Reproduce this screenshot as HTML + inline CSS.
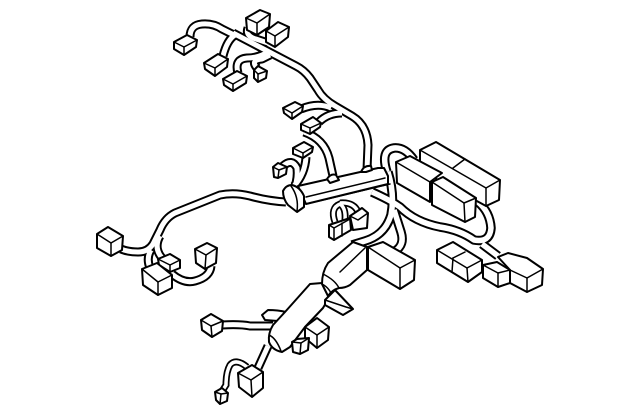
<!DOCTYPE html>
<html><head><meta charset="utf-8"><style>
html,body{margin:0;padding:0;background:#fff}
svg{display:block}
.b polygon,.b polyline,.b path{fill:#fff;stroke:#000;stroke-width:2;stroke-linejoin:round;stroke-linecap:round}
.b polyline.l,.b path.l{fill:none;stroke-width:1.5}
</style></head><body>
<svg width="640" height="414" viewBox="0 0 640 414" xmlns="http://www.w3.org/2000/svg">
<rect width="640" height="414" fill="#fff"/>
<defs>
<g id="w" fill="none" stroke-linecap="butt" stroke-linejoin="round">
<path d="M233 33 L296 66 Q304 70 310 78 L318 90 Q323 99 335 106 L352 116 Q367 125 368 145 L367 170"/>
<path d="M190 37 Q190 25 202 24 Q213 23 222 29 L234 35"/>
<path d="M223 56 Q227 40 235 35"/>
<path d="M238 73 Q234 59 247 58 Q258 58 268 52"/>
<path d="M257 68 Q250 60 262 59 L270 55"/>
<path d="M248 28 Q245 36 256 39 L268 43"/>
<path d="M301 109 Q318 102 331 108"/>
<path d="M319 122 Q328 113 342 113"/>
<path d="M304 132 Q324 139 329 158 L333 176"/>
<path d="M306 157 Q305 174 294 186"/>
<path d="M283 166 Q292 158 297 168 Q298 178 295 186"/>
<path d="M286 202 Q268 201 250 196 Q234 192 220 195 L175 213 Q165 218 160 230 L153 244 Q148 252 138 252 Q128 252 121 249"/>
<path d="M160 236 Q152 250 166 262"/>
<path d="M151 250 Q146 258 150 268"/>
<path d="M211 266 Q210 277 195 281 Q184 284 172 274"/>
<path d="M222 325 Q240 324 250 326 L273 326"/>
<path d="M268 346 L258 368"/>
</g>
<g id="w2" fill="none" stroke-linejoin="round">
<path d="M387 172 Q380 150 394 148 Q405 147 414 160"/>
<path d="M388 172 Q395 195 391 215 Q385 235 365 241 L352 245"/>
<path d="M372 192 Q390 200 400 207 Q415 222 440 227 Q460 230 474 240 Q490 243 491 228 Q490 212 478 202"/>
<path d="M394 210 L401 232 Q405 245 395 251"/>
<path d="M482 244 L498 256"/>
</g>
<g id="w3" fill="none">
<path d="M247 367 Q236 358 230 365 Q226 372 226 385 L221 393"/>
<path d="M335 222 Q330 208 340 204 Q346 208 345 220"/>
<path d="M340 203 Q354 202 358 212"/>
</g>
</defs>
<use href="#w2" stroke="#000" stroke-width="9.5"/>
<use href="#w2" stroke="#fff" stroke-width="5.5"/>
<use href="#w" stroke="#000" stroke-width="9"/>
<use href="#w" stroke="#fff" stroke-width="5"/>
<use href="#w3" stroke="#000" stroke-width="7"/>
<use href="#w3" stroke="#fff" stroke-width="3.5"/>
<g class="b">
<!-- trunk -->
<polygon points="298,186 378,168 384,168 388,176 388,184 306,204"/>
<polyline class="l" points="306,197 385,178"/>
<polyline class="l" points="306,204 390,184"/>
<path d="M327,179 Q331,173 336,175 L339,180 L330,183 Z"/>
<path d="M361,172 Q364,165 371,166 L372,170 L366,172 Z"/>
<!-- clamp -->
<path d="M283,191 Q286,185 292,185 Q300,187 304,196 L304,207 L297,212 L288,205 Q283,199 283,191 Z"/>
<path class="l" d="M291,186 Q299,197 297,211"/>
<!-- top boxes -->
<polygon points="174,42 187,35 197,40 196,47 184,55 174,49"/><polyline class="l" points="174,42 184,47 197,40"/><polyline class="l" points="184,47 184,55"/>
<polygon points="204,63 218,54 228,59 227,67 215,76 205,69"/><polyline class="l" points="204,63 215,68 228,59"/><polyline class="l" points="215,68 215,76"/>
<polygon points="223,79 237,71 247,76 246,83 233,91 224,85"/><polyline class="l" points="223,79 233,84 247,76"/><polyline class="l" points="233,84 233,91"/>
<polygon points="254,70 258,66 267,71 266,78 258,82 254,78"/><polyline class="l" points="254,70 258,74 267,71"/><polyline class="l" points="258,74 258,82"/>
<polygon points="246,18 260,10 270,14 269,27 257,35 247,30"/><polyline class="l" points="246,18 257,23 270,14"/><polyline class="l" points="257,23 257,35"/>
<polygon points="266,31 278,22 289,27 288,37 275,47 266,42"/><polyline class="l" points="266,31 275,36 289,27"/><polyline class="l" points="275,36 275,47"/>
<polygon points="283,108 295,102 303,106 302,112 292,119 284,113"/><polyline class="l" points="283,108 292,113 303,106"/><polyline class="l" points="292,113 292,119"/>
<polygon points="301,124 313,117 321,123 320,127 310,134 301,130"/><polyline class="l" points="301,124 310,128 321,123"/><polyline class="l" points="310,128 310,134"/>
<polygon points="293,148 304,142 313,147 312,152 303,158 293,154"/><polyline class="l" points="293,148 303,153 313,147"/><polyline class="l" points="303,153 303,158"/>
<polygon points="273,167 278,163 287,167 286,174 278,178 274,177"/><polyline class="l" points="273,167 279,170 287,167"/><polyline class="l" points="279,170 278,178"/>
<!-- left boxes -->
<polygon points="97,234 108,227 123,236 122,250 111,256 97,248"/><polyline class="l" points="97,234 111,243 123,236"/><polyline class="l" points="111,243 111,256"/>
<polygon points="158,259 170,254 180,260 180,268 170,272 159,265"/><polyline class="l" points="158,259 170,265 180,260"/><polyline class="l" points="170,265 170,272"/>
<polygon points="142,269 157,263 172,275 172,288 158,295 143,285"/><polyline class="l" points="142,269 158,282 172,275"/><polyline class="l" points="158,282 158,295"/>
<polygon points="195,249 207,243 217,248 216,263 205,269 196,263"/><polyline class="l" points="195,249 206,255 217,248"/><polyline class="l" points="206,255 205,269"/>
<!-- right boxes -->
<polygon points="420,150 436,142 500,180 499,200 486,206 420,170"/><polyline class="l" points="420,150 486,188 500,180"/><polyline class="l" points="486,188 486,206"/><polyline class="l" points="465,159 453,168"/>
<polygon points="396,162 410,156 442,173 430,182 430,202 397,183"/><polyline class="l" points="396,162 430,182"/>
<polygon points="432,182 443,177 476,198 475,217 465,222 432,205"/><polyline class="l" points="432,182 464,203 476,198"/><polyline class="l" points="464,203 465,222"/>
<!-- bottom right -->
<polygon points="437,250 453,242 482,260 482,272 468,282 437,263"/><polyline class="l" points="437,250 467,268 482,260"/><polyline class="l" points="467,268 468,282"/><polyline class="l" points="453,258 465,252"/><polyline class="l" points="453,258 452,272"/>
<polygon points="498,257 508,253 527,258 543,269 542,285 527,292 510,283 510,270"/><polyline class="l" points="510,270 527,278 543,269"/><polyline class="l" points="527,278 527,292"/>
<polygon points="483,265 497,262 510,270 510,283 498,287 483,278"/><polyline class="l" points="483,265 498,273 510,270"/><polyline class="l" points="498,273 498,287"/>
<!-- centre small connector -->
<polygon points="350,216 362,208 368,213 367,228 353,230"/><polyline class="l" points="350,216 358,220 368,213"/>
<polygon points="329,225 350,218 351,230 334,240 329,237"/><polyline class="l" points="329,225 334,228 350,219"/><polyline class="l" points="334,228 334,240"/><polyline class="l" points="342,223 342,236"/>
<!-- body -->
<path d="M262,315 L268,310 Q278,310 286,312 L278,321 L265,320 Z"/>
<path d="M310,284 L285,312 L273,325 Q268,333 269,342 Q272,350 282,352 L290,347 L305,327 L323,308 L330,296 Q328,288 322,283 Z"/>
<path class="l" d="M269,335 Q276,338 281,351"/>
<!-- tube -->
<path d="M322,284 Q322,272 328,263 L353,242 L367,247 L367,270 L350,285 Q345,288 339,288 Q332,290 328,296 Z"/>
<polyline class="l" points="340,272 365,248"/>
<path class="l" d="M323,274 Q335,280 339,288"/>
<path class="l" d="M322,284 Q330,288 333,298"/>
<polygon points="325,300 335,290 353,309 343,315 325,305"/><polyline class="l" points="325,300 346,307 353,309"/>
<!-- C box -->
<polygon points="368,247 383,242 415,260 414,280 400,289 368,270"/><polyline class="l" points="368,247 400,268 415,260"/><polyline class="l" points="400,268 400,289"/>
<!-- lower boxes -->
<polygon points="305,327 317,318 329,327 328,340 317,348 305,338"/><polyline class="l" points="305,327 317,335 329,327"/><polyline class="l" points="317,335 317,348"/>
<polygon points="292,342 297,339 309,338 308,350 300,354 293,352"/><polyline class="l" points="292,342 301,343 309,338"/><polyline class="l" points="301,343 300,354"/>
<polygon points="201,320 211,314 223,321 222,331 212,337 202,330"/><polyline class="l" points="201,320 211,326 223,321"/><polyline class="l" points="211,326 212,337"/>
<polygon points="238,373 252,365 263,372 263,388 252,397 239,387"/><polyline class="l" points="238,373 251,380 263,372"/><polyline class="l" points="251,380 252,397"/>
<polygon points="215,392 222,388 228,393 227,401 220,404 216,400"/><polyline class="l" points="215,392 221,394 228,393"/><polyline class="l" points="221,394 220,404"/>
</g>
</svg>
</body></html>
